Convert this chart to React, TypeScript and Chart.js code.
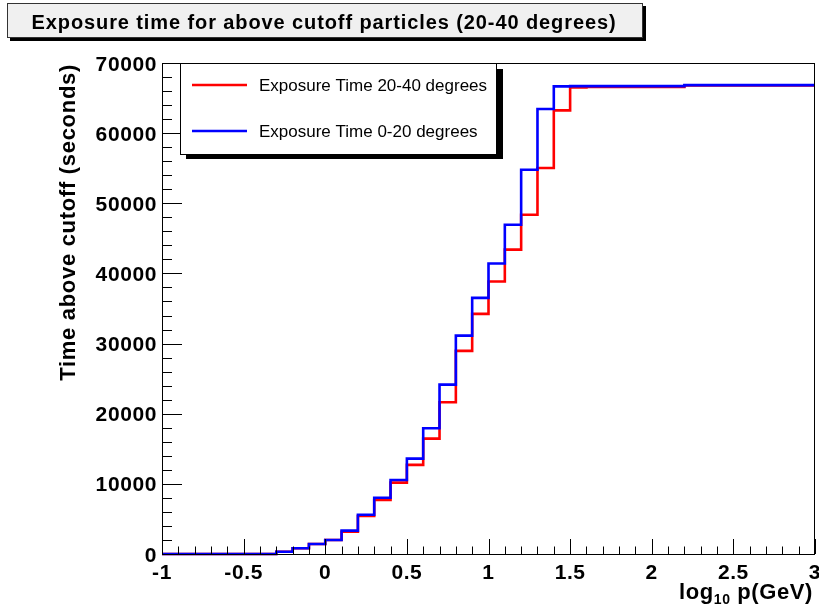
import React, { useEffect, useRef } from "react";
import { Chart, registerables } from "chart.js";

Chart.register(...registerables);

const TITLE = "Exposure time for above cutoff particles (20-40 degrees)";
const Y_TITLE = "Time above cutoff (seconds)";
const SERIES_NAMES = ["Exposure Time 20-40 degrees", "Exposure Time 0-20 degrees"];

// bin lower edges (width 0.1) plus the final upper edge
const BIN_EDGES = [
  -1.0, -0.9, -0.8, -0.7, -0.6, -0.5, -0.4, -0.3, -0.2, -0.1,
  0.0, 0.1, 0.2, 0.3, 0.4, 0.5, 0.6, 0.7, 0.8, 0.9,
  1.0, 1.1, 1.2, 1.3, 1.4, 1.5, 1.6, 1.7, 1.8, 1.9,
  2.0, 2.1, 2.2, 2.3, 2.4, 2.5, 2.6, 2.7, 2.8, 2.9, 3.0,
];

// Exposure Time 20-40 degrees (red)
const RED_VALUES = [
  0, 0, 0, 0, 0, 0, 0, 330, 810, 1430,
  2000, 3180, 5420, 7700, 10170, 12700, 16450, 21640, 28960, 34240,
  38840, 43400, 48360, 55020, 63240, 66520, 66600, 66600, 66600, 66600,
  66600, 66600, 66800, 66800, 66800, 66800, 66800, 66800, 66800, 66800,
];

// Exposure Time 0-20 degrees (blue)
const BLUE_VALUES = [
  0, 0, 0, 0, 0, 0, 0, 330, 810, 1430,
  2000, 3330, 5600, 8030, 10560, 13600, 17930, 24150, 31140, 36520,
  41410, 46930, 54780, 63440, 66670, 66700, 66700, 66700, 66700, 66700,
  66700, 66700, 66850, 66850, 66850, 66850, 66850, 66850, 66850, 66850,
];

const X_TICKS = [-1, -0.5, 0, 0.5, 1, 1.5, 2, 2.5, 3];
const X_TICK_LABELS = ["-1", "-0.5", "0", "0.5", "1", "1.5", "2", "2.5", "3"];
const Y_TICKS = [0, 10000, 20000, 30000, 40000, 50000, 60000, 70000];
const Y_TICK_LABELS = ["0", "10000", "20000", "30000", "40000", "50000", "60000", "70000"];

const RED = "#ff0000";
const BLUE = "#0000ff";
const FONT = "'Liberation Sans', Arial, Helvetica, sans-serif";

function toSteps(values: number[]) {
  const pts = values.map((v, i) => ({ x: BIN_EDGES[i], y: v }));
  pts.push({ x: BIN_EDGES[values.length], y: values[values.length - 1] });
  return pts;
}

const decorPlugin = {
  id: "rootDecor",
  afterDatasetsDraw(chart: any) {
    const ctx: CanvasRenderingContext2D = chart.ctx;
    const xs = chart.scales.x;
    const ys = chart.scales.y;
    const a = chart.chartArea;
    ctx.save();

    // frame
    ctx.strokeStyle = "#000";
    ctx.lineWidth = 1;
    ctx.strokeRect(Math.round(a.left) + 0.5, Math.round(a.top) + 0.5, Math.round(a.right - a.left) - 1, Math.round(a.bottom - a.top));

    // x ticks
    ctx.beginPath();
    for (let i = 0; i < X_TICKS.length; i++) {
      const px = Math.round(xs.getPixelForValue(X_TICKS[i])) + 0.5;
      ctx.moveTo(px, a.bottom);
      ctx.lineTo(px, a.bottom - 15);
      if (i < X_TICKS.length - 1) {
        const step = (X_TICKS[i + 1] - X_TICKS[i]) / 5;
        for (let k = 1; k < 5; k++) {
          const mx = Math.round(xs.getPixelForValue(X_TICKS[i] + k * step)) + 0.5;
          ctx.moveTo(mx, a.bottom);
          ctx.lineTo(mx, a.bottom - 7.5);
        }
      }
    }
    // y ticks
    for (let i = 0; i < Y_TICKS.length; i++) {
      const py = Math.round(ys.getPixelForValue(Y_TICKS[i])) + 0.5;
      ctx.moveTo(a.left, py);
      ctx.lineTo(a.left + 20, py);
      if (i < Y_TICKS.length - 1) {
        const step = (Y_TICKS[i + 1] - Y_TICKS[i]) / 5;
        for (let k = 1; k < 5; k++) {
          const my = Math.round(ys.getPixelForValue(Y_TICKS[i] + k * step)) + 0.5;
          ctx.moveTo(a.left, my);
          ctx.lineTo(a.left + 10, my);
        }
      }
    }
    ctx.stroke();

    // tick labels
    ctx.fillStyle = "#000";
    ctx.font = `bold 21px ${FONT}`;
    (ctx as any).letterSpacing = "0.6px";
    ctx.textBaseline = "alphabetic";
    ctx.textAlign = "center";
    X_TICKS.forEach((v, i) => {
      ctx.fillText(X_TICK_LABELS[i], xs.getPixelForValue(v), a.bottom + 25);
    });
    ctx.textAlign = "right";
    Y_TICKS.forEach((v, i) => {
      ctx.fillText(Y_TICK_LABELS[i], a.left - 5, ys.getPixelForValue(v) + 7.5);
    });

    // x axis title: log_10 p(GeV)
    (ctx as any).letterSpacing = "0.6px";
    const big = `bold 22px ${FONT}`;
    const small = `bold 14px ${FONT}`;
    ctx.font = big;
    const w1 = ctx.measureText("log").width;
    const w3 = ctx.measureText(" p(GeV)").width;
    ctx.font = small;
    const w2 = ctx.measureText("10").width;
    const right = 813;
    const base = 599;
    const x0 = right - (w1 + w2 + w3);
    ctx.textAlign = "left";
    ctx.font = big;
    ctx.fillText("log", x0, base);
    ctx.font = small;
    ctx.fillText("10", x0 + w1, base + 5);
    ctx.font = big;
    ctx.fillText(" p(GeV)", x0 + w1 + w2, base);

    // y axis title
    ctx.save();
    ctx.translate(75, 64);
    ctx.rotate(-Math.PI / 2);
    ctx.textAlign = "right";
    ctx.font = `bold 22px ${FONT}`;
    (ctx as any).letterSpacing = "0.7px";
    ctx.fillText(Y_TITLE, 0, 0);
    ctx.restore();

    // title box
    ctx.fillStyle = "#000";
    ctx.fillRect(10, 6, 636, 35);
    ctx.fillStyle = "#f0f0f0";
    ctx.fillRect(7, 3, 636, 35);
    ctx.strokeStyle = "#333";
    ctx.lineWidth = 1;
    ctx.strokeRect(7.5, 3.5, 635, 34);
    ctx.fillStyle = "#000";
    ctx.font = `bold 20px ${FONT}`;
    (ctx as any).letterSpacing = "0.9px";
    ctx.textAlign = "center";
    ctx.fillText(TITLE, 324, 29);
    (ctx as any).letterSpacing = "0px";

    // legend box
    ctx.fillStyle = "#000";
    ctx.fillRect(186, 69, 317, 90);
    ctx.fillStyle = "#fff";
    ctx.fillRect(180, 63, 317, 92);
    ctx.strokeStyle = "#000";
    ctx.strokeRect(180.5, 63.5, 316, 91);
    const entries = [
      { name: SERIES_NAMES[0], color: RED, y: 85 },
      { name: SERIES_NAMES[1], color: BLUE, y: 131 },
    ];
    ctx.lineWidth = 2.5;
    ctx.font = `17px ${FONT}`;
    ctx.textAlign = "left";
    ctx.textBaseline = "middle";
    entries.forEach((e) => {
      ctx.strokeStyle = e.color;
      ctx.beginPath();
      ctx.moveTo(192, e.y);
      ctx.lineTo(247, e.y);
      ctx.stroke();
      ctx.fillStyle = "#000";
      ctx.fillText(e.name, 259, e.y + 1);
    });

    ctx.restore();
  },
};

export default function App() {
  const ref = useRef<HTMLCanvasElement | null>(null);
  useEffect(() => {
    if (!ref.current) return;
    const chart = new Chart(ref.current, {
      type: "line",
      data: {
        datasets: [
          {
            label: SERIES_NAMES[1],
            data: toSteps(BLUE_VALUES),
            borderColor: BLUE,
            borderWidth: 2.6,
            stepped: true,
            pointRadius: 0,
            fill: false,
            clip: false as any,
            order: 0,
          },
          {
            label: SERIES_NAMES[0],
            data: toSteps(RED_VALUES),
            borderColor: RED,
            borderWidth: 2.6,
            stepped: true,
            pointRadius: 0,
            fill: false,
            clip: false as any,
            order: 1,
          },
        ],
      },
      options: {
        responsive: false,
        maintainAspectRatio: false,
        animation: false,
        layout: { padding: { left: 162, right: 4, top: 63, bottom: 52 } },
        scales: {
          x: { type: "linear", min: -1, max: 3, display: false },
          y: { type: "linear", min: 0, max: 70000, display: false },
        },
        plugins: {
          legend: { display: false },
          tooltip: { enabled: false },
          title: { display: false },
        },
      },
      plugins: [decorPlugin],
    });
    return () => chart.destroy();
  }, []);
  return (
    <div style={{ position: "absolute", left: 0, top: 0, width: 819, height: 606, background: "#fff" }}>
      <canvas ref={ref} width={819} height={606} style={{ display: "block", width: 819, height: 606 }} />
    </div>
  );
}
